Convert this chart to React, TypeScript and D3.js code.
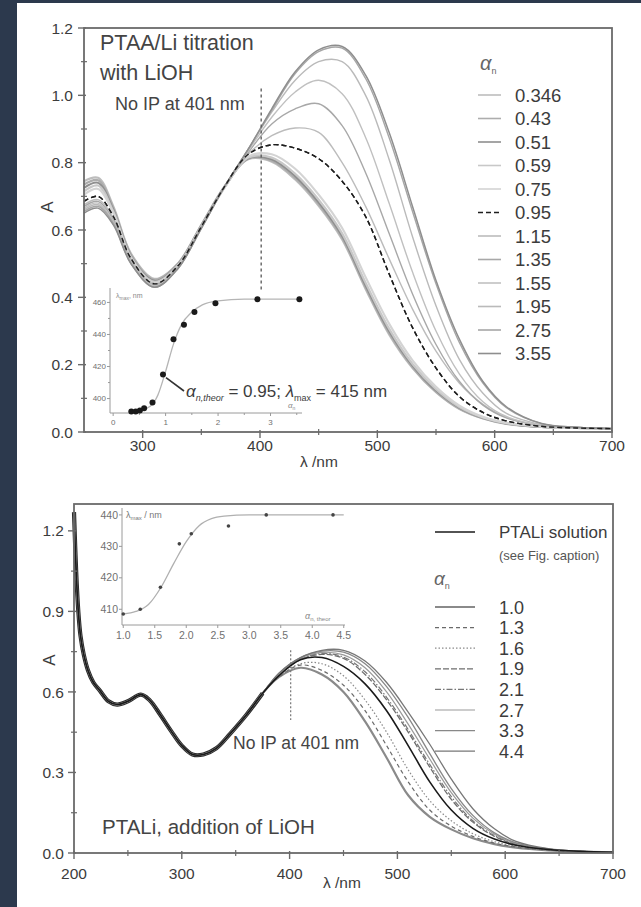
import React, { useRef, useEffect } from "react";
import { select, scaleLinear, line, curveCatmullRom, curveMonotoneX } from "d3";

const W = 641;
const H = 907;
const BG = "#2c394d";
const TXT = "#3c3c3c";
const FONT = "'Liberation Sans', Arial, sans-serif";

// ---------- upper panel: PTAA/Li titration ----------
const topWl = [250, 262, 275, 290, 310, 330, 350, 370, 390, 410, 430, 450, 470, 490, 510, 530, 550, 570, 590, 610, 640, 670, 700];
const topAlphas = ["0.346", "0.43", "0.51", "0.59", "0.75", "0.95", "1.15", "1.35", "1.55", "1.95", "2.75", "3.55"];
const topA0346 = [0.745, 0.755, 0.67, 0.53, 0.455, 0.5, 0.615, 0.73, 0.81, 0.803, 0.75, 0.672, 0.572, 0.425, 0.29, 0.19, 0.118, 0.068, 0.04, 0.024, 0.015, 0.012, 0.01];
const topA043 = [0.735, 0.748, 0.665, 0.527, 0.452, 0.5, 0.615, 0.73, 0.812, 0.806, 0.755, 0.677, 0.577, 0.43, 0.295, 0.193, 0.12, 0.07, 0.041, 0.025, 0.015, 0.012, 0.01];
const topA051 = [0.725, 0.74, 0.66, 0.523, 0.449, 0.497, 0.612, 0.728, 0.813, 0.81, 0.76, 0.682, 0.582, 0.435, 0.3, 0.197, 0.123, 0.072, 0.042, 0.025, 0.015, 0.012, 0.01];
const topA059 = [0.715, 0.732, 0.655, 0.52, 0.446, 0.495, 0.61, 0.727, 0.815, 0.815, 0.767, 0.69, 0.59, 0.443, 0.307, 0.202, 0.127, 0.074, 0.043, 0.026, 0.016, 0.012, 0.01];
const topA075 = [0.705, 0.722, 0.65, 0.516, 0.443, 0.493, 0.61, 0.727, 0.818, 0.825, 0.782, 0.705, 0.606, 0.46, 0.322, 0.213, 0.134, 0.078, 0.045, 0.027, 0.016, 0.012, 0.01];
const topA095 = [0.685, 0.7, 0.64, 0.515, 0.44, 0.493, 0.61, 0.73, 0.825, 0.853, 0.843, 0.812, 0.745, 0.64, 0.47, 0.31, 0.19, 0.105, 0.058, 0.033, 0.017, 0.012, 0.01];
const topA115 = [0.675, 0.69, 0.635, 0.512, 0.44, 0.492, 0.61, 0.73, 0.825, 0.88, 0.903, 0.89, 0.8, 0.67, 0.515, 0.365, 0.24, 0.145, 0.082, 0.043, 0.019, 0.013, 0.01];
const topA135 = [0.67, 0.685, 0.63, 0.51, 0.437, 0.49, 0.61, 0.73, 0.83, 0.915, 0.96, 0.975, 0.91, 0.77, 0.59, 0.41, 0.26, 0.15, 0.08, 0.042, 0.019, 0.013, 0.01];
const topA155 = [0.665, 0.68, 0.625, 0.508, 0.435, 0.49, 0.608, 0.73, 0.835, 0.935, 1.01, 1.045, 1.005, 0.875, 0.68, 0.475, 0.3, 0.172, 0.09, 0.046, 0.02, 0.013, 0.01];
const topA195 = [0.66, 0.675, 0.62, 0.505, 0.432, 0.487, 0.607, 0.73, 0.84, 0.95, 1.045, 1.1, 1.1, 1.0, 0.81, 0.58, 0.375, 0.215, 0.115, 0.055, 0.022, 0.013, 0.01];
const topA275 = [0.655, 0.67, 0.62, 0.5, 0.43, 0.485, 0.605, 0.73, 0.84, 0.955, 1.065, 1.13, 1.14, 1.05, 0.875, 0.655, 0.44, 0.265, 0.145, 0.072, 0.025, 0.014, 0.01];
const topA355 = [0.65, 0.665, 0.615, 0.5, 0.43, 0.485, 0.605, 0.73, 0.84, 0.96, 1.07, 1.135, 1.145, 1.06, 0.89, 0.67, 0.45, 0.275, 0.15, 0.075, 0.025, 0.014, 0.01];
const topSeries = [topA0346, topA043, topA051, topA059, topA075, topA095, topA115, topA135, topA155, topA195, topA275, topA355];

// upper inset: lambda_max vs alpha_n
const topInsetAlpha = [0.346, 0.43, 0.51, 0.59, 0.75, 0.95, 1.15, 1.35, 1.55, 1.95, 2.75, 3.55];
const topInsetLmax = [392, 392, 392.5, 394, 397.5, 415, 437, 446, 454, 459.5, 462, 462];
const topFitAlpha = [0.3, 0.5, 0.7, 0.85, 1.0, 1.15, 1.3, 1.5, 1.7, 2.0, 2.5, 3.0, 3.55];
const topFitLmax = [392, 392.5, 395, 402, 417, 434, 446, 454, 458.5, 461, 462, 462, 462];

// ---------- lower panel: PTALi + LiOH ----------
const botUvWl = [200, 202, 204, 206, 209, 213, 218, 224, 232, 240, 250, 262, 270, 280, 290, 300, 310, 320, 332, 345, 360, 375];
const botUvA = [1.27, 1.05, 0.9, 0.81, 0.74, 0.68, 0.635, 0.605, 0.565, 0.553, 0.565, 0.59, 0.57, 0.515, 0.455, 0.4, 0.367, 0.367, 0.39, 0.445, 0.515, 0.595];
const botVisWl = [390, 410, 430, 450, 470, 490, 510, 530, 550, 570, 590, 610, 640, 670, 700];
const botNames = ["PTALi solution", "1.0", "1.3", "1.6", "1.9", "2.1", "2.7", "3.3", "4.4"];
const botPTALi = [0.66, 0.72, 0.728, 0.695, 0.63, 0.53, 0.4, 0.265, 0.16, 0.092, 0.052, 0.029, 0.013, 0.006, 0.003];
const bot10 = [0.655, 0.69, 0.665, 0.6, 0.49, 0.355, 0.215, 0.135, 0.088, 0.055, 0.033, 0.02, 0.01, 0.005, 0.003];
const bot13 = [0.655, 0.7, 0.68, 0.625, 0.53, 0.4, 0.265, 0.16, 0.1, 0.062, 0.037, 0.022, 0.011, 0.005, 0.003];
const bot16 = [0.655, 0.705, 0.705, 0.66, 0.57, 0.45, 0.31, 0.195, 0.12, 0.072, 0.042, 0.025, 0.012, 0.005, 0.003];
const bot19 = [0.665, 0.72, 0.74, 0.725, 0.665, 0.57, 0.45, 0.32, 0.2, 0.115, 0.062, 0.032, 0.014, 0.006, 0.003];
const bot21 = [0.665, 0.722, 0.743, 0.73, 0.675, 0.58, 0.46, 0.33, 0.21, 0.12, 0.065, 0.034, 0.014, 0.006, 0.003];
const bot27 = [0.667, 0.725, 0.747, 0.738, 0.69, 0.6, 0.48, 0.35, 0.225, 0.13, 0.07, 0.036, 0.015, 0.006, 0.003];
const bot33 = [0.668, 0.727, 0.752, 0.748, 0.705, 0.62, 0.505, 0.37, 0.24, 0.14, 0.075, 0.038, 0.015, 0.006, 0.003];
const bot44 = [0.67, 0.728, 0.755, 0.755, 0.715, 0.635, 0.525, 0.405, 0.275, 0.165, 0.09, 0.043, 0.016, 0.006, 0.003];
const botSeries = [botPTALi, bot10, bot13, bot16, bot19, bot21, bot27, bot33, bot44];

// lower inset
const botInsetAlpha = [1.0, 1.27, 1.59, 1.89, 2.08, 2.67, 3.27, 4.33];
const botInsetLmax = [408.5, 410, 417, 430.8, 434, 436.5, 440, 440];
const botFitAlpha = [1.0, 1.2, 1.4, 1.6, 1.8, 2.0, 2.2, 2.4, 2.6, 3.0, 3.5, 4.0, 4.5];
const botFitLmax = [408.5, 409.3, 411.5, 417, 424.5, 431.5, 436.5, 438.8, 439.6, 440, 440, 440, 440];

// styles (kept apart from the data)
const topColors = ["#bdbdbd", "#adadad", "#8f8f8f", "#c8c8c8", "#d4d4d4", "#1e1e1e", "#bcbcbc", "#a8a8a8", "#c0c0c0", "#bababa", "#a6a6a6", "#8e8e8e"];
const topWidths = [2.2, 2.2, 2, 2.2, 2.2, 1.4, 1.4, 1.4, 1.4, 1.4, 1.4, 1.5];
const topDash = [null, null, null, null, null, "5,3", null, null, null, null, null, null];
const botColors = ["#1a1a1a", "#8a8a8a", "#6a6a6a", "#8a8a8a", "#6e6e6e", "#777", "#9a9a9a", "#888", "#777"];
const botWidths = [1.6, 2.2, 1.2, 1.2, 1.3, 1.2, 1.2, 1.3, 1.3];
const botDash = [null, null, "4,3", "1.5,2", "6,2", "6,2,1.5,2", null, null, null];

function frame(svg, x, y, xMajor, xMinor, yMajor, yMinor, xLabY, yLabX, yFmt) {
  const [x0, x1] = x.range();
  const [y0, y1] = y.range();
  const g = svg.append("g").attr("stroke", "#6a6a6a");
  g.append("rect")
    .attr("x", x0).attr("y", y1)
    .attr("width", x1 - x0).attr("height", y0 - y1)
    .attr("fill", "none").attr("stroke-width", 1.8);
  xMajor.forEach((v) => g.append("line").attr("x1", x(v)).attr("x2", x(v)).attr("y1", y0 - 2).attr("y2", y0 + 6).attr("stroke-width", 1.4));
  xMinor.forEach((v) => g.append("line").attr("x1", x(v)).attr("x2", x(v)).attr("y1", y0 - 3).attr("y2", y0 + 3).attr("stroke-width", 1.2));
  yMajor.forEach((v) => g.append("line").attr("x1", x0 - 6).attr("x2", x0 + 2).attr("y1", y(v)).attr("y2", y(v)).attr("stroke-width", 1.4));
  yMinor.forEach((v) => g.append("line").attr("x1", x0 - 3).attr("x2", x0 + 3).attr("y1", y(v)).attr("y2", y(v)).attr("stroke-width", 1.2));

  const t = svg.append("g").attr("fill", TXT).attr("font-size", 15.5);
  xMajor.forEach((v) => t.append("text").attr("x", x(v)).attr("y", xLabY).attr("text-anchor", "middle").text(v));
  yMajor.forEach((v) => t.append("text").attr("x", yLabX).attr("y", y(v)).attr("dy", "0.36em").attr("text-anchor", "end").text(yFmt(v)));
}

function insetAxes(svg, x, y, xTicks, xMinor, yTicks, yMinor, xFmt, labSize, xLabY) {
  const [x0, x1] = x.range();
  const [y0, y1] = y.range();
  const g = svg.append("g").attr("stroke", "#9a9a9a").attr("stroke-width", 1);
  g.append("line").attr("x1", x0).attr("x2", x0).attr("y1", y0).attr("y2", y1);
  g.append("line").attr("x1", x0).attr("x2", x1).attr("y1", y0).attr("y2", y0);
  xTicks.forEach((v) => g.append("line").attr("x1", x(v)).attr("x2", x(v)).attr("y1", y0).attr("y2", y0 + 3));
  xMinor.forEach((v) => g.append("line").attr("x1", x(v)).attr("x2", x(v)).attr("y1", y0).attr("y2", y0 + 2));
  yTicks.forEach((v) => g.append("line").attr("x1", x0 - 3).attr("x2", x0).attr("y1", y(v)).attr("y2", y(v)));
  yMinor.forEach((v) => g.append("line").attr("x1", x0 - 2).attr("x2", x0).attr("y1", y(v)).attr("y2", y(v)));
  const t = svg.append("g").attr("fill", "#707070").attr("font-size", labSize);
  xTicks.forEach((v) => t.append("text").attr("x", x(v)).attr("y", xLabY).attr("text-anchor", "middle").text(xFmt(v)));
  yTicks.forEach((v) => t.append("text").attr("x", x0 - 4).attr("y", y(v)).attr("dy", "0.35em").attr("text-anchor", "end").text(v));
}

function drawTop(svg) {
  const x = scaleLinear().domain([250, 700]).range([84, 612]);
  const y = scaleLinear().domain([0, 1.2]).range([432, 28]);
  const ln = line<number>().x((d, i) => x(topWl[i])).y((d) => y(d)).curve(curveCatmullRom.alpha(0.5));

  const g = svg.append("g").attr("fill", "none");
  topSeries.forEach((s, i) => {
    g.append("path").attr("d", ln(s)).attr("stroke", topColors[i]).attr("stroke-width", topWidths[i])
      .attr("stroke-dasharray", topDash[i]);
  });
  // redraw the dashed one on top
  g.append("path").attr("d", ln(topA095)).attr("stroke", "#1e1e1e").attr("stroke-width", 1.4).attr("stroke-dasharray", "5,3");

  // "no isosbestic point" marker
  g.append("line").attr("x1", x(401)).attr("x2", x(401)).attr("y1", y(1.02)).attr("y2", y(0.42))
    .attr("stroke", "#555").attr("stroke-width", 1.3).attr("stroke-dasharray", "3,3");

  frame(svg, x, y, [300, 400, 500, 600, 700], [350, 450, 550, 650],
    [0, 0.2, 0.4, 0.6, 0.8, 1.0, 1.2], [0.1, 0.3, 0.5, 0.7, 0.9, 1.1], 451, 73, (v) => v.toFixed(1));

  svg.append("text").attr("x", 300).attr("y", 467).attr("fill", TXT).attr("font-size", 15.5).text("λ /nm");
  svg.append("text").attr("transform", "translate(53,207) rotate(-90)").attr("text-anchor", "middle")
    .attr("fill", TXT).attr("font-size", 17).text("A");

  const tt = svg.append("g").attr("fill", "#444");
  tt.append("text").attr("x", 100).attr("y", 50).attr("font-size", 21.5).text("PTAA/Li titration");
  tt.append("text").attr("x", 100).attr("y", 80).attr("font-size", 21.5).text("with LiOH");
  tt.append("text").attr("x", 115).attr("y", 110).attr("font-size", 18).text("No IP at 401 nm");

  // legend
  const lg = svg.append("g");
  const al = lg.append("text").attr("x", 480).attr("y", 70).attr("fill", "#666").attr("font-size", 20);
  al.append("tspan").attr("font-style", "italic").text("α");
  al.append("tspan").attr("font-size", 9).attr("dy", 4).text("n");
  topAlphas.forEach((a, i) => {
    const yy = 95 + i * 23.5;
    lg.append("line").attr("x1", 478).attr("x2", 501).attr("y1", yy).attr("y2", yy)
      .attr("stroke", topColors[i]).attr("stroke-width", i === 5 ? 1.4 : 1.6)
      .attr("stroke-dasharray", topDash[i]);
    lg.append("text").attr("x", 515).attr("y", yy + 6.5).attr("fill", TXT).attr("font-size", 18.5).text(a);
  });

  // inset
  const ix = scaleLinear().domain([-0.06, 3.6]).range([110, 302]);
  const iy = scaleLinear().domain([391, 469]).range([413, 288]);
  insetAxes(svg, ix, iy, [0, 1, 2, 3], [0.5, 1.5, 2.5, 3.5], [400, 420, 440, 460], [410, 430, 450], (v) => v, 8, 425);
  const fit = line<number>().x((d, i) => ix(topFitAlpha[i])).y((d) => iy(d)).curve(curveMonotoneX);
  svg.append("path").attr("d", fit(topFitLmax)).attr("fill", "none").attr("stroke", "#b5b5b5").attr("stroke-width", 1.3);
  svg.append("g").selectAll("circle").data(topInsetLmax).enter().append("circle")
    .attr("cx", (d, i) => ix(topInsetAlpha[i])).attr("cy", (d) => iy(d)).attr("r", 3).attr("fill", "#1a1a1a");
  const il = svg.append("text").attr("x", 116).attr("y", 298).attr("fill", "#888").attr("font-size", 7);
  il.append("tspan").text("λ");
  il.append("tspan").attr("font-size", 5).attr("dy", 2).text("max");
  il.append("tspan").attr("dy", -2).text(", nm");
  const ixl = svg.append("text").attr("x", 288).attr("y", 408).attr("fill", "#888").attr("font-size", 8);
  ixl.append("tspan").attr("font-style", "italic").text("α");
  ixl.append("tspan").attr("font-size", 5).attr("dy", 2).text("n");

  // annotation
  const px = ix(0.95), py = iy(415);
  svg.append("line").attr("x1", px + 3).attr("y1", py + 3).attr("x2", 184).attr("y2", 391)
    .attr("stroke", "#333").attr("stroke-width", 1.6);
  const an = svg.append("text").attr("x", 186).attr("y", 397).attr("fill", TXT).attr("font-size", 17);
  an.append("tspan").attr("font-style", "italic").text("α");
  an.append("tspan").attr("font-size", 9).attr("dy", 4).attr("font-style", "italic").text("n,theor");
  an.append("tspan").attr("dy", -4).text(" = 0.95; ");
  an.append("tspan").attr("font-style", "italic").text("λ");
  an.append("tspan").attr("font-size", 9).attr("dy", 4).text("max");
  an.append("tspan").attr("dy", -4).text(" = 415 nm");
}

function drawBottom(svg) {
  const x = scaleLinear().domain([200, 700]).range([74, 613]);
  const y = scaleLinear().domain([0, 1.3]).range([853, 504]);
  const wl = botUvWl.concat(botVisWl);
  const ln = line<number>().x((d, i) => x(wl[i])).y((d) => y(d)).curve(curveCatmullRom.alpha(0.5));

  const g = svg.append("g").attr("fill", "none");
  // UV band where all spectra coincide
  g.append("path").attr("d", ln(botUvA)).attr("stroke", "#2a2a2a").attr("stroke-width", 4.2);
  g.append("path").attr("d", ln(botUvA)).attr("stroke", "#9a9a9a").attr("stroke-width", 1.4).attr("stroke-dasharray", "3,2");
  const order = [1, 2, 3, 4, 5, 6, 7, 8, 0];
  order.forEach((i) => {
    g.append("path").attr("d", ln(botUvA.concat(botSeries[i]))).attr("stroke", botColors[i])
      .attr("stroke-width", botWidths[i]).attr("stroke-dasharray", botDash[i]);
  });

  g.append("line").attr("x1", x(401)).attr("x2", x(401)).attr("y1", y(0.755)).attr("y2", y(0.495))
    .attr("stroke", "#777").attr("stroke-width", 1.2).attr("stroke-dasharray", "2,2");

  frame(svg, x, y, [200, 300, 400, 500, 600, 700], [250, 350, 450, 550, 650],
    [0, 0.3, 0.6, 0.9, 1.2], [0.15, 0.45, 0.75, 1.05], 879, 64, (v) => v.toFixed(1));

  svg.append("text").attr("x", 323).attr("y", 888).attr("fill", TXT).attr("font-size", 15.5).text("λ /nm");
  svg.append("text").attr("transform", "translate(55,660) rotate(-90)").attr("text-anchor", "middle")
    .attr("fill", TXT).attr("font-size", 17).text("A");

  svg.append("text").attr("x", 102).attr("y", 834).attr("fill", "#444").attr("font-size", 20.5).text("PTALi, addition of LiOH");
  svg.append("text").attr("x", 233).attr("y", 749).attr("fill", "#444").attr("font-size", 17.5).text("No IP at 401 nm");

  // legend
  const lg = svg.append("g");
  lg.append("line").attr("x1", 435).attr("x2", 475).attr("y1", 532).attr("y2", 532).attr("stroke", "#1a1a1a").attr("stroke-width", 1.6);
  lg.append("text").attr("x", 499).attr("y", 538).attr("fill", TXT).attr("font-size", 17).text(botNames[0]);
  lg.append("text").attr("x", 499).attr("y", 560).attr("fill", "#555").attr("font-size", 13).text("(see Fig. caption)");
  const al = lg.append("text").attr("x", 434).attr("y", 585).attr("fill", "#666").attr("font-size", 19);
  al.append("tspan").attr("font-style", "italic").text("α");
  al.append("tspan").attr("font-size", 9).attr("dy", 4).text("n");
  botNames.slice(1).forEach((n, k) => {
    const i = k + 1;
    const yy = 607 + k * 20.6;
    lg.append("line").attr("x1", 435).attr("x2", 475).attr("y1", yy).attr("y2", yy)
      .attr("stroke", botColors[i]).attr("stroke-width", botWidths[i]).attr("stroke-dasharray", botDash[i]);
    lg.append("text").attr("x", 499).attr("y", yy + 6.5).attr("fill", TXT).attr("font-size", 18).text(n);
  });

  // inset
  const ix = scaleLinear().domain([0.98, 4.52]).range([122, 345]);
  const iy = scaleLinear().domain([405, 442.2]).range([625, 508]);
  insetAxes(svg, ix, iy, [1, 1.5, 2, 2.5, 3, 3.5, 4, 4.5], [], [410, 420, 430, 440], [], (v) => v.toFixed(1), 10.5, 639);
  const fit = line<number>().x((d, i) => ix(botFitAlpha[i])).y((d) => iy(d)).curve(curveMonotoneX);
  svg.append("path").attr("d", fit(botFitLmax)).attr("fill", "none").attr("stroke", "#b0b0b0").attr("stroke-width", 1.3);
  svg.append("g").selectAll("circle").data(botInsetLmax).enter().append("circle")
    .attr("cx", (d, i) => ix(botInsetAlpha[i])).attr("cy", (d) => iy(d)).attr("r", 1.8).attr("fill", "#444");
  const il = svg.append("text").attr("x", 126).attr("y", 518).attr("fill", "#777").attr("font-size", 9);
  il.append("tspan").text("λ");
  il.append("tspan").attr("font-size", 6).attr("dy", 2).text("max");
  il.append("tspan").attr("dy", -2).text(" / nm");
  const ixl = svg.append("text").attr("x", 305).attr("y", 619).attr("fill", "#888").attr("font-size", 9);
  ixl.append("tspan").attr("font-style", "italic").text("α");
  ixl.append("tspan").attr("font-size", 6).attr("dy", 2).text("n, theor");
}

export default function App() {
  const svgRef = useRef<SVGSVGElement>(null);

  useEffect(() => {
    const svg = select(svgRef.current);
    svg.selectAll("*").remove();
    svg.append("rect").attr("width", W).attr("height", H).attr("fill", "#fff");
    svg.append("rect").attr("width", 17).attr("height", H).attr("fill", BG);
    svg.append("rect").attr("width", W).attr("height", 3).attr("fill", BG);
    drawTop(svg);
    drawBottom(svg);
  }, []);

  return (
    <svg
      ref={svgRef}
      width={W}
      height={H}
      style={{ position: "absolute", left: 0, top: 0, fontFamily: FONT }}
    />
  );
}
